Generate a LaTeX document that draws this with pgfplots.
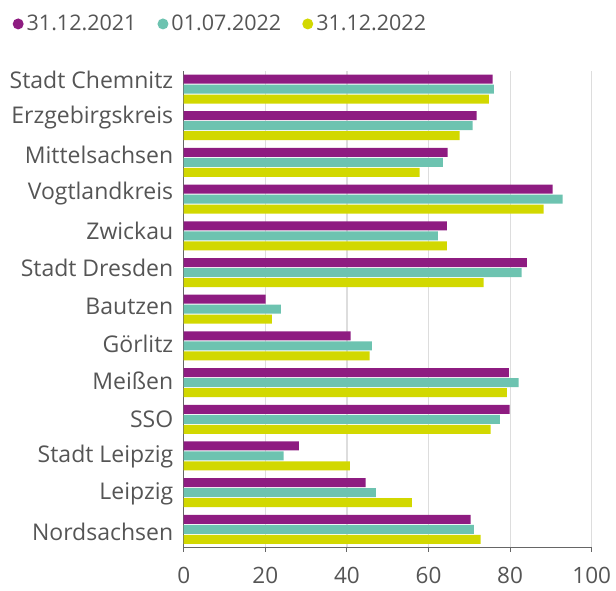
\documentclass[border=0pt]{standalone}
\usepackage{fontspec}
\setmainfont{Open Sans}
\usepackage{pgfplots}
\usepackage{pgfplotstable}
\pgfplotsset{compat=1.18}
\definecolor{cpurple}{HTML}{8E1C81}
\definecolor{cteal}{HTML}{6DC3B0}
\definecolor{cyellow}{HTML}{D2D800}
\definecolor{ctext}{HTML}{555555}
\definecolor{cgrid}{HTML}{DDDDDD}
\definecolor{caxis}{HTML}{666666}

\pgfplotstableread{
pos a b c
12 75.7 76.0 74.8
11 71.8 70.8 67.6
10 64.7 63.5 57.8
9 90.4 92.9 88.2
8 64.5 62.3 64.5
7 84.1 82.8 73.5
6 20.1 23.8 21.6
5 40.9 46.1 45.6
4 79.7 82.1 79.2
3 79.9 77.5 75.2
2 28.2 24.5 40.7
1 44.6 47.1 55.9
0 70.3 71.1 72.8
}\datatable

\begin{document}
\begin{tikzpicture}[x=1pt,y=1pt]
\useasboundingbox (0,0) rectangle (616,591);
\begin{axis}[
 at={(183.7pt,43.3pt)}, anchor=south west,
 width=408pt, height=477pt, scale only axis,
 xbar, bar width=9pt,
 xmin=0, xmax=100, ymin=-0.5, ymax=12.5,
 xtick={0,20,...,100},
 ytick={-0.07,0.956,1.983,3.009,4.035,5.061,6.088,7.114,8.14,9.166,10.193,11.219,12.245},
 yticklabels={Nordsachsen\hspace{4pt}, Leipzig\hspace{10pt}, Stadt Leipzig\hspace{4pt}, SSO\hspace{12pt}, Meißen\hspace{10pt}, Görlitz\hspace{11pt}, Bautzen\hspace{8pt}, Stadt Dresden, Zwickau\hspace{8pt}, Vogtlandkreis\hspace{4pt}, Mittelsachsen\hspace{4pt}, Erzgebirgskreis\hspace{2pt}, Stadt Chemnitz},
 axis x line*=bottom, axis y line*=left,
 axis line style={caxis, line width=1pt},
 xtick align=outside,
 major tick length=4pt,
 major x tick style={caxis, line width=1pt},
 major y tick style={draw=none},
 xmajorgrids,
 major grid style={cgrid, line width=1.2pt},
 xticklabel style={font=\fontsize{22.5}{26}\selectfont, text=ctext, inner sep=0pt, text depth=0pt, yshift=-15pt},
 yticklabel style={font=\fontsize{23}{27}\selectfont, text=ctext, xshift=-3pt},
 /pgf/number format/assume math mode=true,
 legend columns=3,
 legend style={draw=none, fill=none, at={(-0.427,1.098)}, anchor=west,
   font=\fontsize{21.5}{25}\selectfont, text=ctext,
   /tikz/every even column/.append style={column sep=19pt},
   /tikz/every odd column/.append style={column sep=1pt}},
]
\addplot[fill=cpurple, draw=none, bar shift=10pt,
  legend image code/.code={\fill[cpurple] (0pt,0pt) circle (5.5pt);}]
  table[x=a, y=pos] {\datatable};
\addlegendentry{31.12.2021}
\addplot[fill=cteal, draw=none, bar shift=0pt,
  legend image code/.code={\fill[cteal] (0pt,0pt) circle (5.5pt);}]
  table[x=b, y=pos] {\datatable};
\addlegendentry{01.07.2022}
\addplot[fill=cyellow, draw=none, bar shift=-10pt,
  legend image code/.code={\fill[cyellow] (0pt,0pt) circle (5.5pt);}]
  table[x=c, y=pos] {\datatable};
\addlegendentry{31.12.2022}
\end{axis}
\end{tikzpicture}
\end{document}
